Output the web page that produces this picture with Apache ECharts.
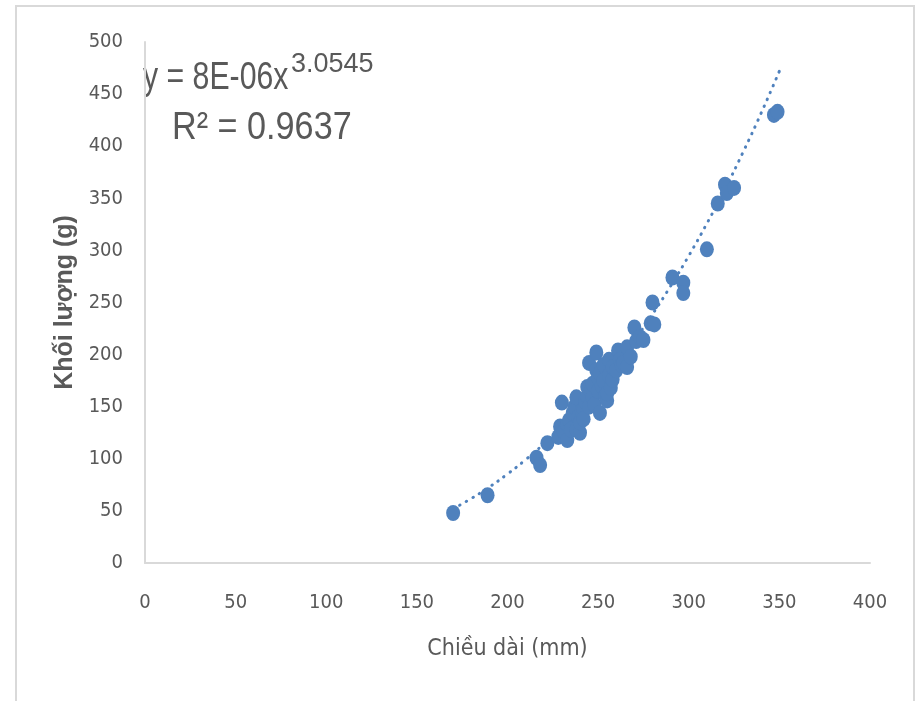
<!DOCTYPE html>
<html>
<head>
<meta charset="utf-8">
<script src="https://cdn.jsdelivr.net/npm/echarts@6/dist/echarts.min.js"></script>
<style>html,body{margin:0;padding:0;background:#fff}#c{width:915px;height:701px}</style>
</head>
<body>
<div id="c"></div>
<script>
// Measured points: length (mm) and weight (g)
const lengthMm = [170,189,216,218,222,228,229,230,231,233,233,234,235,236,237,238,238,239,240,240,241,242,242,243,244,244,245,245,246,247,247,248,249,249,250,250,251,251,252,253,253,254,255,255,256,256,257,258,258,260,261,262,263,264,266,266,268,270,271,273,275,279,281,280,291,297,297,310,316,320,321,325,347,349];
const weightG  = [48,65,101,94,115,121,131,154,126,118,133,137,128,144,150,159,128,140,125,135,146,147,138,155,169,160,192,150,165,159,172,152,202,185,178,165,182,144,170,190,175,160,156,163,180,195,168,176,188,185,204,195,190,192,188,207,198,226,213,217,214,230,229,250,274,269,259,301,345,363,355,360,430,433];
// Power trend line y = 8E-06x^3.0545, read at these lengths
const trendX = [170,180,190,200,210,220,230,240,250,260,270,280,290,300,310,320,330,340,350];
const trendY = [52.0,61.9,73.0,85.4,99.1,114.3,130.9,149.1,168.9,190.4,213.7,238.8,265.8,294.8,325.8,359.0,394.4,432.0,472.0];
const xTicks = [0,50,100,150,200,250,300,350,400];
const yTicks = [0,50,100,150,200,250,300,350,400,450,500];
const eqMain = 'y = 8E-06x';
const eqExp = '3.0545';
const eqR2 = 'R² = 0.9637';

const pts = lengthMm.map((x,i)=>[x,weightG[i]]);
const trend = trendX.map((x,i)=>[x,trendY[i]]);
const cond = "'DejaVu Sans Condensed','Liberation Sans',sans-serif";
const lib = "'Liberation Sans',Arial,sans-serif";
const chart = echarts.init(document.getElementById('c'), null, {renderer:'canvas'});
chart.setOption({
  animation:false,
  backgroundColor:'#ffffff',
  grid:{left:145,right:45,top:42,bottom:138},
  xAxis:{type:'value',min:xTicks[0],max:xTicks[xTicks.length-1],interval:50,
    name:'Chiều dài (mm)',nameLocation:'middle',nameGap:75,
    nameTextStyle:{color:'#595959',fontSize:23,fontFamily:cond},
    axisLine:{show:true,lineStyle:{color:'#d9d9d9',width:2}},
    axisTick:{show:false},splitLine:{show:false},
    axisLabel:{color:'#595959',fontSize:20,fontFamily:cond,margin:30}},
  yAxis:{type:'value',min:yTicks[0],max:yTicks[yTicks.length-1],interval:50,
    name:'Khối lượng (g)',nameLocation:'middle',nameGap:66,nameRotate:90,
    nameTextStyle:{color:'#595959',fontSize:25,fontWeight:'bold',fontFamily:lib},
    axisLine:{show:true,lineStyle:{color:'#d9d9d9',width:2}},
    axisTick:{show:false},splitLine:{show:false},
    axisLabel:{color:'#595959',fontSize:20,fontFamily:cond,margin:22}},
  series:[
    {type:'line',data:trend,smooth:true,showSymbol:false,z:1,
      lineStyle:{color:'#4f81bd',width:3,type:[0.5,7],cap:'round'}},
    {type:'scatter',data:pts,symbol:'circle',symbolSize:[14,16],z:2,
      itemStyle:{color:'#4f81bd',opacity:1}}
  ],
  graphic:[
    {type:'polyline',silent:true,shape:{points:[[16,701],[16,6],[914,6],[914,701]]},
      style:{stroke:'#d9d9d9',lineWidth:2,fill:null}},
    {type:'text',x:143,y:98,scaleX:0.84,scaleY:1.08,silent:true,style:{
      text:eqMain,fontSize:36,fontFamily:lib,fill:'#595959',textVerticalAlign:'bottom',verticalAlign:'bottom'}},
    {type:'text',x:291,y:78,silent:true,style:{
      text:eqExp,fontSize:27,fontFamily:lib,fill:'#595959',textVerticalAlign:'bottom',verticalAlign:'bottom'}},
    {type:'text',x:172,y:148,scaleX:0.95,scaleY:1.08,silent:true,style:{
      text:eqR2,fontSize:36,fontFamily:lib,fill:'#595959',textVerticalAlign:'bottom',verticalAlign:'bottom'}}
  ]
});
</script>
</body>
</html>
